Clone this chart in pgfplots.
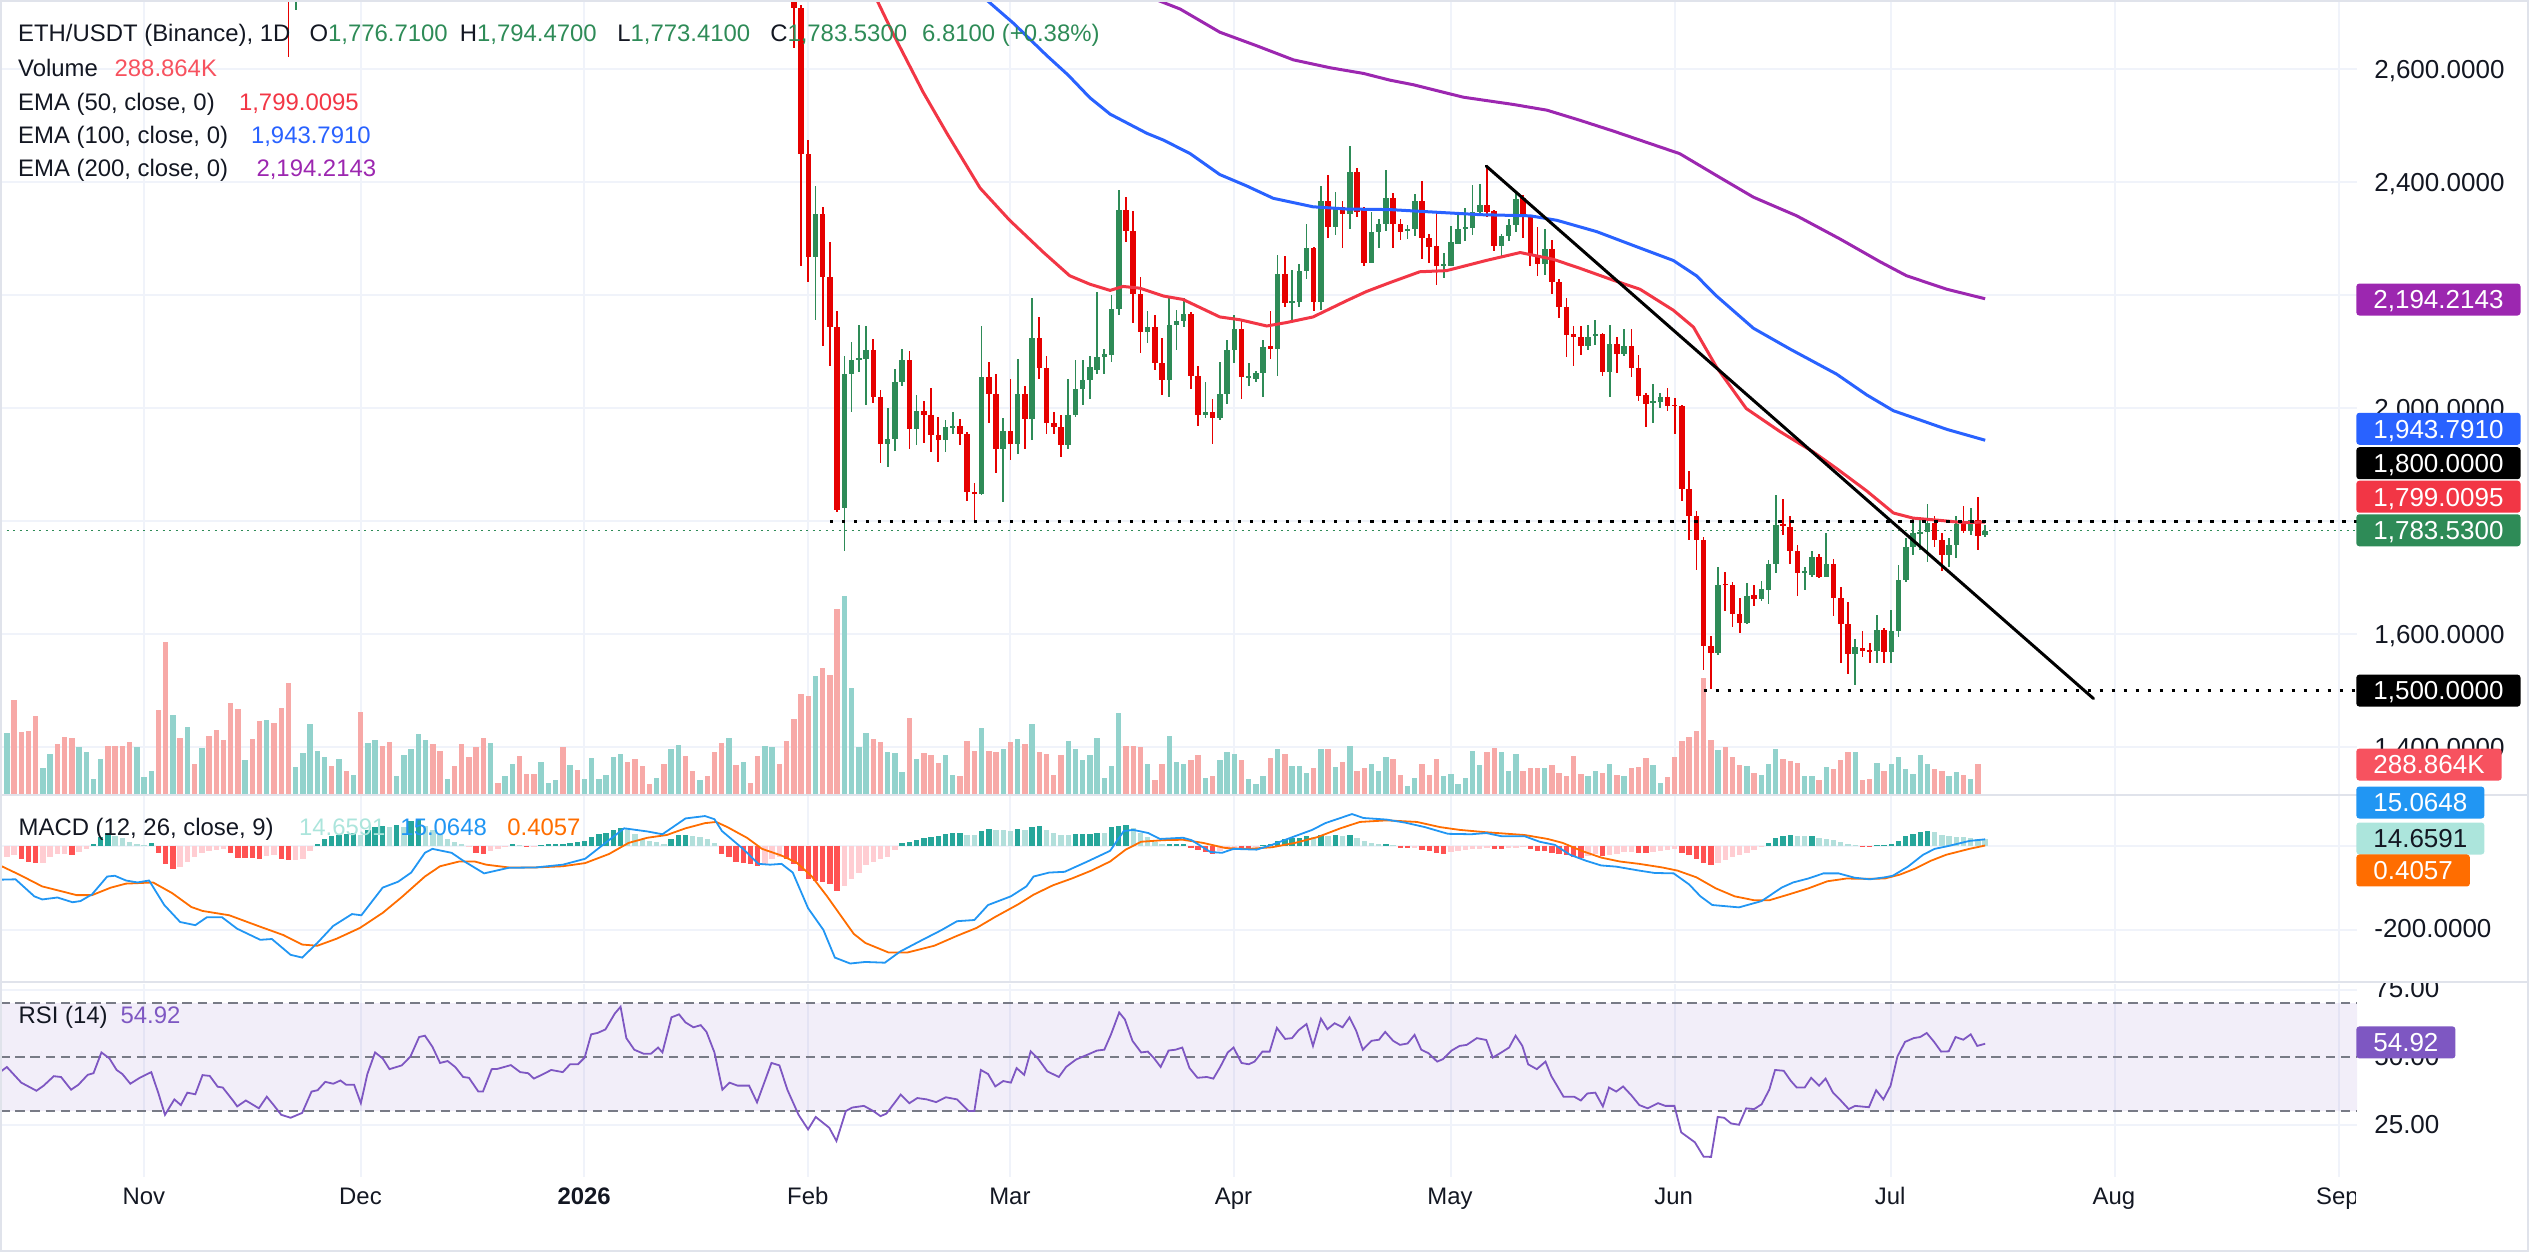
\documentclass[border=0pt]{standalone}
\usepackage{pgfplots}
\pgfplotsset{compat=1.18}
\usepackage{pgfplotstable}
\usepackage{fontspec}
\setmainfont{Liberation Sans}
\definecolor{upc}{HTML}{2E8B57}
\definecolor{dnc}{HTML}{E60000}
\definecolor{volup}{HTML}{92D2CC}
\definecolor{voldn}{HTML}{F7A9A7}
\definecolor{emaA}{HTML}{F23645}
\definecolor{emaB}{HTML}{2962FF}
\definecolor{emaC}{HTML}{9C27B0}
\definecolor{gridc}{HTML}{F0F3FA}
\definecolor{sepc}{HTML}{E0E3EB}
\definecolor{txt}{HTML}{131722}
\definecolor{macdc}{HTML}{2196F3}
\definecolor{sigc}{HTML}{FF6D00}
\definecolor{hup}{HTML}{26A69A}
\definecolor{hupl}{HTML}{B2DFDB}
\definecolor{hdn}{HTML}{FF5252}
\definecolor{hdnl}{HTML}{FFCDD2}
\definecolor{rsic}{HTML}{7E57C2}
\definecolor{bandc}{HTML}{787B86}
\definecolor{volbox}{HTML}{F7525F}
\definecolor{histbox}{HTML}{ACE5DC}
\newcommand{\legfont}{\fontsize{6.8pt}{8pt}\selectfont}
\newcommand{\sclfont}{\fontsize{7.4pt}{9pt}\selectfont}
\newcommand{\timefont}{\fontsize{6.8pt}{8pt}\selectfont}

\pgfplotstableread{
d o h l c
-71 2790 2900 2705 2880
1 2268 2394 2157 2345
5 1823 2093 1748 2061
6 2061 2118 1994 2085
7 2085 2148 2065 2089
8 2087 2146 2006 2104
11 1938 2000 1896 1946
12 1946 2070 1924 2047
13 2047 2105 2040 2085
15 1963 2024 1936 1995
19 1945 1979 1923 1967
20 1966 1993 1955 1969
24 1849 2146 1847 2055
27 1928 1984 1835 1961
29 1937 2088 1919 2026
31 1981 2196 1945 2124
36 1936 2053 1928 1989
37 1989 2085 1985 2034
38 2034 2085 2006 2050
39 2050 2093 2016 2073
40 2069 2207 2061 2092
41 2092 2105 2061 2097
42 2095 2201 2083 2176
43 2176 2386 2165 2352
47 2135 2173 2116 2144
50 2051 2196 2020 2148
51 2148 2174 2103 2154
52 2154 2196 2144 2168
55 1989 2046 1984 1993
57 1984 2083 1979 2026
58 2026 2122 2008 2104
59 2104 2165 2081 2140
61 2055 2081 2039 2058
62 2052 2066 2046 2063
63 2063 2122 2020 2108
65 2106 2272 2058 2238
67 2187 2245 2156 2190
68 2188 2256 2180 2244
69 2244 2327 2229 2284
71 2188 2394 2174 2368
73 2321 2384 2307 2357
75 2345 2465 2317 2418
78 2258 2347 2257 2313
79 2313 2335 2284 2326
80 2326 2422 2314 2372
83 2315 2325 2300 2318
84 2317 2380 2306 2368
88 2253 2276 2231 2256
89 2253 2323 2253 2295
90 2292 2344 2291 2317
91 2317 2355 2296 2321
92 2319 2396 2307 2347
93 2347 2398 2345 2360
96 2288 2309 2266 2305
97 2305 2335 2296 2325
98 2325 2383 2313 2370
102 2256 2317 2237 2283
108 2110 2148 2104 2126
109 2128 2157 2112 2131
111 2065 2148 2020 2115
113 2097 2140 2093 2110
117 2010 2044 1975 2013
118 2012 2028 2000 2020
126 1567 1719 1563 1687
130 1620 1691 1618 1669
132 1663 1695 1659 1680
133 1679 1732 1654 1724
134 1724 1847 1709 1794
138 1709 1719 1679 1712
139 1705 1748 1701 1738
141 1702 1779 1701 1724
145 1565 1592 1511 1577
148 1571 1634 1549 1608
150 1569 1644 1549 1606
151 1606 1723 1595 1697
152 1697 1771 1693 1754
153 1754 1805 1741 1779
154 1779 1806 1749 1782
155 1782 1831 1728 1798
158 1741 1771 1719 1758
159 1758 1809 1736 1795
161 1784 1823 1776 1803
163 1776.71 1794.47 1773.41 1783.53
}\upC

\pgfplotstableread{
d o h l c
-72 2900 2950 2622 2790
-2 2800 2850 2638 2709
-1 2709 2715 2252 2451
0 2451 2475 2223 2268
2 2345 2357 2110 2233
3 2233 2295 2075 2144
4 2144 2172 1817 1821
9 2104 2123 2010 2020
10 2020 2032 1904 1938
14 2085 2101 1928 1963
16 1995 2014 1939 1989
17 1989 2036 1923 1953
18 1953 1985 1906 1945
21 1969 1982 1935 1954
22 1954 1958 1836 1853
23 1853 1868 1798 1849
25 2055 2083 1975 2026
26 2026 2061 1886 1928
28 1961 2053 1908 1937
30 2026 2039 1928 1981
32 2124 2162 2053 2071
33 2071 2093 1955 1975
34 1975 1994 1954 1967
35 1967 1988 1915 1936
44 2352 2375 2294 2315
45 2315 2349 2152 2203
46 2203 2233 2099 2135
48 2144 2166 2069 2081
49 2081 2124 2024 2051
53 2168 2170 2034 2058
54 2058 2075 1969 1989
56 1993 2016 1937 1984
60 2140 2158 2016 2055
64 2110 2172 2087 2106
66 2238 2270 2179 2187
70 2284 2286 2173 2188
72 2368 2414 2302 2321
74 2357 2368 2284 2345
76 2418 2425 2339 2348
77 2353 2356 2252 2258
81 2372 2382 2284 2327
82 2327 2335 2299 2313
85 2368 2402 2265 2302
86 2302 2309 2258 2286
87 2287 2347 2219 2252
94 2360 2429 2339 2348
95 2349 2352 2279 2288
99 2372 2378 2302 2339
100 2339 2343 2253 2272
101 2272 2322 2234 2256
103 2283 2298 2203 2223
104 2223 2229 2161 2179
105 2179 2196 2091 2130
106 2131 2146 2075 2127
107 2127 2146 2095 2110
110 2131 2134 2057 2065
112 2115 2127 2063 2097
114 2110 2140 2055 2071
115 2071 2095 2014 2022
116 2023 2028 1967 2008
119 2020 2036 1996 2004
120 2007 2018 1955 2004
121 2004 2006 1837 1858
122 1858 1890 1768 1809
123 1809 1819 1715 1768
124 1768 1772 1538 1579
125 1579 1598 1504 1567
127 1690 1711 1642 1687
128 1687 1693 1614 1636
129 1636 1665 1603 1620
131 1669 1687 1650 1663
135 1795 1839 1776 1792
136 1790 1809 1725 1748
137 1748 1758 1669 1709
140 1738 1742 1700 1702
142 1724 1733 1633 1664
143 1664 1684 1549 1618
144 1618 1657 1530 1565
146 1576 1606 1561 1571
147 1573 1585 1549 1570
149 1608 1611 1550 1569
156 1798 1809 1754 1768
157 1768 1780 1713 1740
160 1797 1827 1780 1784
162 1803 1844 1750 1774
}\dnC

\pgfplotsset{
  gridpanel/.style={scale only axis, width=23.57cm, xmin=-111.95, xmax=214.5,
    axis line style={draw=none}, major tick length=0pt,
    xticklabels={}, yticklabels={}, tick label style={opacity=0},
    xtick={-92,-62,-31,0,28,59,89,120,150,181,212},
    grid=major, major grid style={draw=gridc, line width=0.02cm}, clip=true},
  overlay/.style={scale only axis, width=23.57cm, xmin=-111.95, xmax=214.5, hide axis, clip=true},
}
\tikzset{
  lbl/.style={anchor=west, inner xsep=0.17cm, inner ysep=0cm, minimum height=0.32cm, text height=0.187cm, text depth=0cm, font=\sclfont, rounded corners=0.03cm, text=white},
  tk/.style={anchor=west, inner sep=0pt, text height=0.187cm, text depth=0cm, font=\sclfont, text=txt},
  lg/.style={anchor=west, inner sep=0pt, text height=0.172cm, text depth=0cm, font=\legfont, text=txt},
  tm/.style={anchor=center, inner sep=0pt, text height=0.172cm, text depth=0cm, font=\timefont, text=txt},
}

\begin{document}
\begin{tikzpicture}
\path[use as bounding box] (0,0) rectangle (25.30cm,-12.53cm);

% ---------- main pane grid ----------
\begin{axis}[gridpanel, at={(0cm,-7.95cm)}, anchor=south west, height=7.95cm,
  ymin=1315.9, ymax=2723, ytick={1400,1600,1800,2000,2200,2400,2600}]
\addplot[draw=none] coordinates {(0,2000)};
\end{axis}

% ---------- volume overlay ----------
\begin{axis}[overlay, at={(0cm,-7.95cm)}, anchor=south west, height=7.95cm,
  ymin=-14.6, ymax=7728]
\addplot[ycomb, draw=volup, line width=0.054cm] coordinates {
(-112,770) (-111,589) (-106,250) (-105,385) (-101,454) (-100,404) (-99,142) (-98,335) (-93,454) (-92,162) (-91,220) (-88,766) (-86,647) (-84,443) (-78,327) (-75,716) (-71,262) (-70,397) (-69,678) (-68,416) (-67,354) (-65,335) (-63,181) (-61,493) (-60,520) (-57,166) (-56,377) (-55,435) (-54,578) (-53,520) (-50,142) (-44,493) (-42,166) (-41,289) (-37,308) (-36,104) (-35,127) (-33,281) (-31,142) (-30,347) (-29,142) (-28,181) (-27,354) (-26,385) (-21,154) (-19,435) (-18,474) (-15,131) (-11,539) (-9,308) (-6,462) (-5,454) (1,1144) (5,1926) (6,1028) (7,454) (8,589) (11,404) (12,393) (13,212) (15,335) (19,374) (20,181) (24,639) (27,435) (29,531) (31,678) (36,512) (37,435) (38,327) (39,374) (40,539) (41,154) (42,270) (43,782) (47,289) (50,558) (51,308) (52,289) (55,154) (57,327) (58,404) (59,385) (61,142) (62,96) (63,166) (65,435) (67,270) (68,270) (69,204) (71,435) (73,258) (75,462) (78,289) (79,220) (80,354) (83,77) (84,154) (88,166) (89,189) (90,92) (91,150) (92,416) (93,281) (96,404) (97,223) (98,385) (102,250) (108,166) (109,220) (111,289) (113,169) (117,277) (118,104) (126,424) (130,270) (132,181) (133,289) (134,435) (138,166) (139,166) (141,258) (145,404) (148,295) (150,286) (151,354) (152,237) (153,188) (154,373) (155,286) (158,169) (159,208) (161,140)
};
\addplot[ycomb, draw=voldn, line width=0.054cm] coordinates {
(-110,913) (-109,601) (-108,608) (-107,755) (-104,481) (-103,547) (-102,539) (-97,462) (-96,462) (-95,462) (-94,501) (-90,816) (-89,1471) (-87,539) (-85,289) (-83,558) (-82,620) (-81,520) (-80,882) (-79,824) (-77,531) (-76,705) (-74,685) (-73,836) (-72,1078) (-66,270) (-64,220) (-62,797) (-59,462) (-58,501) (-52,481) (-51,412) (-49,270) (-48,481) (-47,354) (-46,454) (-45,539) (-43,104) (-40,366) (-39,189) (-38,189) (-34,454) (-32,231) (-25,308) (-24,335) (-23,270) (-22,92) (-20,289) (-17,366) (-16,220) (-14,169) (-13,404) (-12,493) (-10,277) (-8,104) (-7,366) (-4,289) (-3,512) (-2,724) (-1,970) (0,951) (2,1221) (3,1155) (4,1798) (9,531) (10,501) (14,739) (16,393) (17,374) (18,297) (21,166) (22,512) (23,416) (25,416) (26,404) (28,501) (30,481) (32,404) (33,385) (34,181) (35,374) (44,462) (45,462) (46,454) (48,131) (49,289) (53,327) (54,374) (56,166) (60,327) (64,347) (66,385) (70,250) (72,435) (74,308) (76,220) (77,250) (81,335) (82,181) (85,289) (86,181) (87,335) (94,404) (95,443) (99,223) (100,250) (101,250) (103,277) (104,200) (105,166) (106,366) (107,189) (110,204) (112,181) (114,250) (115,258) (116,347) (119,162) (120,354) (121,512) (122,551) (123,605) (124,1125) (125,520) (127,451) (128,354) (129,281) (131,200) (135,335) (136,316) (137,297) (140,135) (142,243) (143,327) (144,404) (146,130) (147,140) (149,217) (156,237) (157,217) (160,179) (162,288.864)
};
\end{axis}

% ---------- main price pane ----------
\begin{axis}[overlay, at={(0cm,-7.95cm)}, anchor=south west, height=7.95cm,
  ymin=1315.9, ymax=2723]
% last price line
\addplot[upc, line width=0.014cm, dash pattern=on 0.02cm off 0.045cm] coordinates {(-111.95,1783.53) (214.5,1783.53)};
% candles
\addplot[draw=none, mark=none, error bars/.cd, y dir=both, y explicit, error mark=none,
  error bar style={draw=upc, line width=0.017cm}]
  table[x=d, y expr={(\thisrow{h}+\thisrow{l})/2}, y error expr={(\thisrow{h}-\thisrow{l})/2}] {\upC};
\addplot[draw=none, mark=none, error bars/.cd, y dir=both, y explicit, error mark=none,
  error bar style={draw=upc, line width=0.055cm}]
  table[x=d, y expr={(\thisrow{o}+\thisrow{c})/2}, y error expr={abs(\thisrow{c}-\thisrow{o})/2}] {\upC};
\addplot[draw=none, mark=none, error bars/.cd, y dir=both, y explicit, error mark=none,
  error bar style={draw=dnc, line width=0.017cm}]
  table[x=d, y expr={(\thisrow{h}+\thisrow{l})/2}, y error expr={(\thisrow{h}-\thisrow{l})/2}] {\dnC};
\addplot[draw=none, mark=none, error bars/.cd, y dir=both, y explicit, error mark=none,
  error bar style={draw=dnc, line width=0.055cm}]
  table[x=d, y expr={(\thisrow{o}+\thisrow{c})/2}, y error expr={abs(\thisrow{c}-\thisrow{o})/2}] {\dnC};
% EMAs
\addplot[emaC, line width=0.03cm] coordinates {(45,2740) (48.3,2723) (51.5,2707) (57.0,2666) (62.1,2642) (67.2,2617) (72.3,2603) (76.9,2593) (80.6,2581) (83.8,2573) (90.7,2551) (97.7,2538) (102.3,2528) (106.9,2510) (111.5,2491) (116.1,2471) (120.7,2451) (126.1,2410) (130.9,2374) (136.9,2341) (142.9,2300) (148.4,2260) (152.1,2235) (157.7,2211) (163,2194.21)};
\addplot[emaB, line width=0.03cm] coordinates {(22,2752) (24.7,2723) (28.4,2682) (33.0,2625) (36.0,2590) (39.0,2550) (41.8,2521) (46.9,2487) (49.2,2475) (52.9,2451) (57.0,2414) (60.7,2394) (64.4,2372) (69.9,2357) (74.6,2353) (80.6,2352) (86.1,2348) (93.1,2343) (100,2341) (103.7,2333) (109.2,2313) (115.2,2284) (119.8,2262) (123.0,2235) (125.8,2199) (130.9,2142) (136.0,2105) (142.4,2061) (146.6,2024) (150.3,1996) (153.0,1984) (157.7,1963) (163,1943.79)};
\addplot[emaA, line width=0.03cm] coordinates {(8,2761) (9.5,2723) (11.8,2662) (15.9,2560) (19.2,2487) (23.8,2390) (27.9,2333) (32.6,2276) (36.2,2235) (39.0,2220) (41.8,2209) (43.6,2216) (45.9,2213) (49.2,2199) (51.9,2193) (57.0,2162) (59.8,2157) (63.5,2146) (66.2,2152) (69.9,2162) (74.6,2191) (77.3,2207) (80.6,2223) (84.7,2242) (88.4,2244) (93.9,2262) (98.6,2276) (103.2,2264) (106.9,2248) (111.5,2227) (115.2,2211) (119.8,2174) (122.6,2144) (125.8,2073) (129.9,2000) (134.6,1959) (139.2,1923) (142.4,1894) (146.6,1854) (150.3,1815) (153.0,1806) (156.7,1802) (160.0,1798) (163,1799.01)};
% horizontal levels
\addplot[black, line width=0.03cm, dash pattern=on 0.035cm off 0.085cm] coordinates {(3,1800) (214.5,1800)};
\addplot[black, line width=0.03cm, dash pattern=on 0.035cm off 0.085cm] coordinates {(124,1500) (214.5,1500)};
% trend line
\addplot[black, line width=0.03cm, line cap=round] coordinates {(93.9,2429) (178,1486.6)};
\end{axis}

% ---------- MACD pane ----------
\begin{axis}[gridpanel, at={(0cm,-9.82cm)}, anchor=south west, height=1.86cm,
  ymin=-321.5, ymax=117.2, ytick={-200,0}]
\addplot[ycomb, draw=hup, line width=0.054cm] coordinates {(-99,3.7) (-98,20.5) (-97,29.8) (-91,5.6) (-68,3.7) (-67,15.9) (-66,22.4) (-65,25.2) (-64,28.0) (-63,29.8) (-61,37.3) (-60,43.8) (-59,46.6) (-57,48.5) (-55,57.8) (-54,62.5) (-41,3.7) (-37,1.9) (-36,3.7) (-35,3.7) (-34,3.7) (-33,6.5) (-32,9.3) (-31,11.2) (-30,20.5) (-29,27.0) (-28,29.8) (-27,36.4) (-26,41.0) (-19,15.9) (-18,25.2) (-17,25.2) (13,6.5) (14,9.3) (15,14.0) (16,18.7) (17,20.5) (18,22.4) (19,28.0) (20,29.8) (21,29.8) (24,34.5) (25,39.2) (29,39.2) (31,43.8) (32,46.6) (37,28.0) (38,28.0) (39,28.0) (40,29.8) (42,43.8) (43,46.6) (44,48.5) (50,3.7) (51,3.7) (52,3.7) (63,1.9) (64,3.7) (65,11.2) (66,15.9) (67,18.7) (68,18.7) (69,22.4) (71,25.2) (73,25.2) (75,25.2) (80,3.7) (133,6.5) (134,18.7) (135,22.4) (136,25.2) (139,22.4) (148,0.9) (149,0.9) (150,4.7) (151,11.2) (152,22.4) (153,28.0) (154,32.6) (155,33.6)};
\addplot[ycomb, draw=hupl, line width=0.054cm] coordinates {(-96,22.4) (-95,18.7) (-94,9.3) (-93,3.7) (-92,1.9) (-62,25.2) (-58,43.8) (-56,43.8) (-53,46.6) (-52,37.3) (-51,25.2) (-50,15.9) (-49,9.3) (-48,3.7) (-40,1.9) (-25,39.2) (-24,28.0) (-23,15.9) (-22,11.2) (-21,9.3) (-20,3.7) (-16,22.4) (-15,20.5) (-14,14.9) (-13,6.5) (22,25.2) (23,25.2) (26,37.3) (27,37.3) (28,34.5) (30,37.3) (33,37.3) (34,29.8) (35,25.2) (36,25.2) (41,29.8) (45,41.0) (46,29.8) (47,20.5) (48,9.3) (49,3.7) (70,20.5) (72,23.3) (74,22.4) (76,18.7) (77,11.2) (78,5.6) (79,3.7) (81,1.9) (137,22.4) (138,22.4) (140,18.7) (141,15.9) (142,14.0) (143,9.3) (144,3.7) (145,1.9) (156,31.7) (157,25.2) (158,22.4) (159,20.5) (160,20.5) (161,18.7) (162,15.9) (163,14.66)};
\addplot[ycomb, draw=hdn, line width=0.054cm] coordinates {(-109,-30.8) (-108,-37.3) (-107,-42.0) (-102,-21.5) (-90,-16.8) (-89,-42.9) (-88,-54.1) (-80,-16.8) (-79,-28.0) (-78,-28.0) (-77,-28.0) (-76,-30.8) (-73,-30.8) (-72,-33.6) (-46,-16.8) (-45,-19.6) (-39,-2.8) (-12,-18.7) (-11,-26.1) (-10,-37.3) (-9,-41.0) (-8,-42.9) (-7,-48.5) (-3,-30.8) (-2,-42.9) (-1,-58.8) (0,-77.4) (1,-83.9) (2,-86.7) (3,-89.5) (4,-107.2) (53,-5.6) (54,-10.3) (55,-14.9) (56,-18.7) (60,-7.5) (61,-7.5) (82,-5.6) (83,-5.6) (85,-10.3) (86,-13.1) (87,-16.8) (88,-18.7) (95,-7.5) (96,-7.5) (100,-7.5) (101,-12.1) (102,-12.1) (103,-16.8) (104,-18.7) (105,-21.5) (106,-26.1) (107,-28.9) (110,-24.2) (115,-16.8) (116,-16.8) (121,-16.8) (122,-21.5) (123,-30.8) (124,-40.1) (125,-46.6) (146,-1.9) (147,-1.9)};
\addplot[ycomb, draw=hdnl, line width=0.054cm] coordinates {(-112,-26.1) (-111,-26.1) (-110,-21.5) (-106,-40.1) (-105,-26.1) (-104,-18.7) (-103,-18.7) (-101,-14.9) (-100,-7.5) (-87,-49.4) (-86,-37.3) (-85,-26.1) (-84,-16.8) (-83,-12.1) (-82,-9.3) (-81,-7.5) (-75,-24.2) (-74,-21.5) (-71,-33.6) (-70,-30.8) (-69,-12.1) (-47,-3.7) (-44,-13.1) (-43,-7.5) (-42,-3.7) (-38,-2.8) (-6,-42.9) (-5,-30.8) (-4,-26.1) (5,-94.2) (6,-77.4) (7,-63.4) (8,-46.6) (9,-37.3) (10,-30.8) (11,-26.1) (12,-11.2) (57,-12.1) (58,-5.6) (59,-5.6) (62,-3.7) (84,-4.7) (89,-14.9) (90,-13.1) (91,-11.2) (92,-7.5) (93,-7.5) (94,-5.6) (97,-5.6) (98,-5.6) (99,-3.7) (108,-24.2) (109,-19.6) (111,-21.5) (112,-18.7) (113,-14.9) (114,-14.9) (117,-14.9) (118,-12.1) (119,-10.3) (120,-7.5) (126,-40.1) (127,-33.6) (128,-26.1) (129,-21.5) (130,-16.8) (131,-11.2) (132,-3.7)};
\addplot[sigc, line width=0.018cm] coordinates {(-111.95,-46.6) (-109.3,-68.1) (-106.1,-96.1) (-103.5,-107.2) (-101.35,-116.6) (-99.2,-116.6) (-96.6,-98.9) (-94.5,-89.5) (-90.75,-86.7) (-88.1,-111.9) (-85.45,-144.6) (-83.9,-153.9) (-80.2,-164.1) (-75.9,-191.2) (-72.7,-210.8) (-70.1,-233.2) (-68.0,-236.0) (-65.3,-219.2) (-62.1,-194.0) (-58.95,-158.5) (-56.3,-121.2) (-53.1,-72.7) (-51.0,-48.5) (-48.35,-37.3) (-46.2,-37.3) (-44.6,-44.8) (-41.5,-51.3) (-37.75,-51.3) (-34.0,-48.5) (-30.9,-41.0) (-27.6,-19.6) (-24.9,6.5) (-22.3,18.7) (-19.6,25.2) (-17.0,41.0) (-14.3,53.2) (-12.75,56.0) (-11.2,43.8) (-8.5,18.7) (-6.4,-7.5) (-3.7,-23.3) (-1.6,-40.1) (0.5,-72.7) (2.6,-119.4) (4.74,-170.7) (6.3,-208.0) (7.9,-229.4) (11.1,-251.8) (13.75,-251.8) (17.46,-235.9) (20.6,-212.6) (23.3,-194.0) (25.9,-167.9) (29.1,-138.0) (31.2,-115.6) (33.9,-93.3) (36.5,-77.4) (39.2,-58.8) (41.8,-37.3) (43.96,-9.3) (46.1,9.3) (49.26,13.1) (51.9,14.0) (54.7,6.5) (57.8,-5.6) (61.0,-7.5) (64.2,-3.7) (67.4,6.5) (70.56,20.5) (73.7,41.0) (76.4,56.0) (80.1,59.7) (84.3,56.0) (87.5,43.8) (90.2,37.3) (93.9,31.7) (99.2,25.2) (102.4,15.9) (104.5,6.5) (107.1,-12.1) (109.8,-28.0) (112.4,-37.3) (115.1,-42.9) (118.26,-51.3) (120.4,-58.8) (123.0,-74.6) (125.7,-100.7) (128.3,-119.4) (131.0,-128.7) (133.1,-128.7) (135.85,-114.7) (138.5,-100.7) (141.15,-83.9) (143.8,-77.4) (146.45,-78.3) (149.1,-77.4) (151.2,-68.1) (153.3,-54.1) (155.5,-35.4) (157.6,-21.4) (160.8,-7.5) (163,0.41)};
\addplot[macdc, line width=0.018cm] coordinates {(-111.95,-80.2) (-109.8,-79.3) (-107.2,-119.4) (-106.1,-126.8) (-104.0,-122.2) (-101.9,-133.4) (-100.8,-130.6) (-99.2,-114.7) (-97.1,-72.7) (-96.05,-70.9) (-94.5,-82.1) (-92.9,-86.7) (-91.3,-82.1) (-89.2,-139.9) (-87.0,-180.0) (-84.9,-187.5) (-83.3,-168.8) (-81.2,-168.8) (-79.1,-195.9) (-75.9,-222.0) (-74.3,-220.1) (-71.7,-257.4) (-70.1,-263.9) (-68.0,-229.4) (-65.8,-189.3) (-63.2,-161.3) (-61.9,-164.1) (-58.95,-98.9) (-56.8,-84.9) (-55.0,-63.4) (-53.1,-16.8) (-52.06,-7.5) (-49.4,-16.8) (-47.8,-35.4) (-44.9,-65.3) (-41.5,-52.2) (-37.75,-51.3) (-34.0,-44.8) (-30.9,-30.8) (-28.1,6.5) (-25.5,41.0) (-22.3,33.6) (-20.2,27.0) (-17.0,64.3) (-14.3,69.9) (-13.0,62.5) (-11.95,34.5) (-9.04,-7.5) (-6.9,-42.9) (-5.3,-44.8) (-3.7,-42.9) (-2.15,-63.4) (-0.03,-147.4) (2.09,-198.6) (3.68,-263.9) (5.8,-277.9) (7.9,-274.2) (10.6,-276.0) (12.7,-249.9) (15.3,-226.6) (18.5,-198.6) (20.6,-178.1) (23.0,-175.3) (24.9,-139.9) (28.06,-119.4) (30.2,-96.1) (31.2,-72.7) (33.36,-63.4) (35.5,-61.6) (38.66,-37.3) (41.8,-12.1) (43.7,34.5) (45.0,37.3) (47.1,29.8) (48.7,15.9) (51.9,18.7) (53.07,13.1) (55.7,-14.9) (57.3,-16.8) (58.9,-7.5) (62.1,-9.3) (64.2,1.9) (67.4,22.4) (69.8,37.3) (71.6,53.2) (73.7,65.3) (75.3,74.6) (76.9,65.3) (80.1,61.6) (82.75,54.1) (85.4,43.8) (88.6,28.0) (91.8,27.0) (93.9,29.8) (96.0,22.4) (99.2,22.4) (101.3,9.3) (103.4,1.9) (105.5,-21.4) (107.7,-35.4) (109.8,-46.6) (111.9,-49.4) (115.1,-58.8) (117.2,-64.3) (119.85,-65.3) (122.0,-91.4) (123.56,-119.4) (125.2,-139.9) (128.9,-145.5) (132.04,-130.6) (134.8,-98.9) (136.4,-86.7) (138.5,-77.4) (140.6,-65.3) (142.7,-65.3) (144.9,-75.5) (147.0,-79.3) (149.1,-74.6) (150.2,-70.9) (152.3,-49.4) (154.4,-21.4) (156.0,-7.5) (158.1,0) (160.8,11.2) (163,15.06)};
\end{axis}

% ---------- RSI pane ----------
\begin{axis}[gridpanel, at={(0cm,-11.77cm)}, anchor=south west, height=1.93cm,
  ymin=5.56, ymax=77.04, ytick={25,75}]
\addplot[fill=rsic, fill opacity=0.1, draw=none] coordinates {(-111.95,30) (214.5,30) (214.5,70) (-111.95,70) (-111.95,30)};
\addplot[bandc, line width=0.014cm, dash pattern=on 0.095cm off 0.057cm] coordinates {(-111.95,70) (214.5,70)};
\addplot[bandc, line width=0.014cm, dash pattern=on 0.095cm off 0.057cm] coordinates {(-111.95,50) (214.5,50)};
\addplot[bandc, line width=0.014cm, dash pattern=on 0.095cm off 0.057cm] coordinates {(-111.95,30) (214.5,30)};
\addplot[rsic, line width=0.018cm] coordinates {(-111.95,44.4) (-111.0,46.3) (-109.0,40.5) (-106.9,37.5) (-105.9,39.4) (-104.5,42.9) (-103.5,42.6) (-102.1,37.9) (-101.1,39.7) (-99.8,43.4) (-99.0,44.0) (-97.9,51.7) (-96.8,49.5) (-95.8,45.2) (-95.0,43.7) (-93.9,40.1) (-92.6,42.3) (-91.0,44.4) (-90.0,36.5) (-89.1,28.6) (-87.8,34.3) (-86.9,32.2) (-86.0,36.8) (-84.9,36.2) (-83.9,43.3) (-82.9,43.0) (-81.8,39.0) (-81.1,38.7) (-79.6,33.6) (-79.1,31.7) (-77.9,33.9) (-76.1,31.0) (-75.0,35.3) (-74.05,32.2) (-73.0,28.6) (-71.7,27.5) (-70.1,29.3) (-68.8,37.2) (-67.96,37.7) (-66.9,40.8) (-65.8,40.1) (-64.8,41.3) (-64.0,39.7) (-62.9,39.7) (-61.97,32.9) (-61.07,43.7) (-60.0,51.7) (-58.95,49.5) (-58.0,45.5) (-56.3,46.9) (-55.1,50.2) (-53.9,57.4) (-53.1,57.9) (-52.06,53.8) (-51.0,47.8) (-49.95,48.5) (-48.9,46.3) (-47.8,42.6) (-47.0,42.3) (-45.7,37.2) (-45.06,37.2) (-43.85,45.5) (-43.05,45.6) (-41.2,47.0) (-39.9,44.4) (-38.8,44.0) (-38.0,42.0) (-36.7,43.7) (-35.6,45.2) (-34.0,44.4) (-33.0,47.3) (-31.9,47.3) (-30.97,49.8) (-30.07,58.4) (-29.2,58.9) (-28.1,60.2) (-26.8,66.1) (-26.0,68.6) (-25.2,57.0) (-24.1,52.7) (-22.8,51.2) (-21.8,51.2) (-20.8,53.5) (-20.2,51.7) (-18.95,64.7) (-17.9,65.8) (-17.0,62.8) (-15.9,61.0) (-14.9,61.8) (-14.1,59.3) (-13.0,51.7) (-11.9,37.9) (-10.9,40.5) (-9.8,39.4) (-8.2,39.4) (-7.1,33.2) (-5.1,47.8) (-4.0,46.9) (-2.9,37.9) (-1.35,28.6) (-0.03,23.2) (1.03,27.8) (2.9,23.8) (3.9,18.9) (5.2,30.0) (6.1,31.3) (7.7,31.9) (9.0,30.0) (10.0,28.1) (10.8,29.0) (12.2,33.9) (12.8,36.1) (14.0,32.9) (15.1,34.8) (16.4,34.3) (17.7,33.3) (19.05,35.1) (20.6,34.3) (22.2,30.0) (23.0,30.0) (23.9,45.2) (24.9,43.7) (25.9,39.1) (27.0,41.1) (28.06,40.5) (28.85,45.9) (29.9,43.4) (30.8,52.1) (31.8,49.5) (33.1,44.7) (34.7,42.6) (35.7,46.3) (37.1,49.1) (38.7,50.9) (40.0,52.4) (41.0,52.7) (41.9,58.2) (43.06,66.5) (43.85,63.9) (44.9,56.0) (46.1,51.7) (47.03,52.0) (47.9,49.5) (48.8,46.3) (49.9,52.4) (50.85,52.7) (51.8,53.5) (52.8,45.9) (53.9,42.3) (55.2,42.6) (56.1,42.0) (57.05,46.3) (58.1,51.7) (58.9,53.5) (60.0,47.8) (61.0,47.3) (61.8,48.3) (62.9,52.0) (63.9,52.0) (64.9,60.8) (66.05,56.7) (67.0,57.0) (67.9,59.9) (69.0,62.2) (69.9,54.1) (71.0,64.2) (71.9,60.3) (72.9,62.5) (74.0,61.0) (74.96,64.7) (75.9,59.6) (76.8,52.7) (78.0,56.0) (79.04,56.4) (79.9,59.3) (81.0,56.0) (81.95,54.5) (83.0,55.0) (83.97,58.2) (84.9,52.7) (85.9,51.4) (87.1,48.3) (87.9,49.2) (89.1,52.4) (90.2,54.1) (91.2,54.5) (92.6,57.0) (93.9,56.3) (94.8,49.8) (96.0,51.7) (97.06,53.5) (97.96,57.9) (98.9,54.1) (99.7,47.3) (100.9,45.5) (102.1,48.3) (102.9,43.0) (104.6,35.3) (106.07,35.3) (107.0,33.9) (107.9,36.5) (109.0,36.8) (110.05,31.7) (110.9,38.7) (111.9,37.2) (112.85,39.1) (114.0,35.8) (115.1,32.2) (116.25,31.0) (117.7,32.9) (118.7,31.9) (119.96,31.9) (120.9,22.1) (122.8,18.4) (124.0,13.1) (125.04,13.0) (125.95,27.8) (126.85,27.5) (127.8,25.4) (128.9,24.9) (129.9,31.0) (131.0,30.7) (132.04,32.5) (133.1,37.9) (133.9,45.2) (135.1,44.9) (136.1,41.1) (136.9,38.7) (138.0,38.7) (138.9,42.3) (140.0,39.4) (140.9,42.0) (141.9,36.9) (143.0,33.9) (144.1,30.7) (145.0,31.9) (146.9,31.4) (147.9,37.7) (148.9,34.3) (149.9,39.4) (150.85,50.2) (151.9,55.6) (153.1,57.0) (154.0,57.4) (154.9,58.9) (155.9,55.7) (156.9,52.0) (157.95,52.1) (158.9,57.4) (159.97,56.4) (161.0,58.4) (161.9,54.1) (163.0,54.92)};
\end{axis}

% ---------- annotations (pixel units) ----------
\begin{scope}[x=0.01cm, y=-0.01cm]
\draw[sepc, line width=0.02cm] (0,795.5) -- (2530,795.5);
\draw[sepc, line width=0.02cm] (0,983) -- (2530,983);
\draw[sepc, line width=0.02cm] (1,1) rectangle (2529,1252);

% price scale ticks
\node[tk] at (2375,69.5) {2,600.0000};
\node[tk] at (2375,182.5) {2,400.0000};
\node[tk] at (2375,408.5) {2,000.0000};
\node[tk] at (2375,634.5) {1,600.0000};
\node[tk] at (2375,747.5) {1,400.0000};
\node[tk] at (2375,929) {-200.0000};
\begin{scope}
\clip (2357,984) rectangle (2530,1177);
\node[tk] at (2375,988.5) {75.00};
\node[tk] at (2375,1057) {50.00};
\node[tk] at (2375,1125) {25.00};
\end{scope}

% value labels
\node[lbl, fill=emaC] at (2357,299.7) {2,194.2143};
\node[lbl, fill=emaB] at (2357,429) {1,943.7910};
\node[lbl, fill=black] at (2357,463.5) {1,800.0000};
\node[lbl, fill=emaA] at (2357,497) {1,799.0095};
\node[lbl, fill=upc] at (2357,530.6) {1,783.5300};
\node[lbl, fill=black] at (2357,691) {1,500.0000};
\node[lbl, fill=volbox] at (2357,765) {288.864K};
\node[lbl, fill=macdc] at (2357,803) {15.0648};
\node[lbl, fill=histbox, text=txt] at (2357,839) {14.6591};
\node[lbl, fill=sigc] at (2357,871) {0.4057};
\node[lbl, fill=rsic] at (2357,1043) {54.92};

% legends
\node[lg] at (17.5,33) {ETH/USDT (Binance), 1D};
\node[lg] at (309,33) {O\textcolor{upc}{1,776.7100}};
\node[lg] at (459.5,33) {H\textcolor{upc}{1,794.4700}};
\node[lg] at (617,33) {L\textcolor{upc}{1,773.4100}};
\node[lg] at (770,33) {C\textcolor{upc}{1,783.5300}};
\node[lg, text=upc] at (922,33) {6.8100 (+0.38\%)};
\node[lg] at (17.5,68) {Volume};
\node[lg, text=volbox] at (114,68) {288.864K};
\node[lg] at (17.5,102) {EMA (50, close, 0)};
\node[lg, text=emaA] at (238.5,102) {1,799.0095};
\node[lg] at (17.5,135) {EMA (100, close, 0)};
\node[lg, text=emaB] at (250.5,135) {1,943.7910};
\node[lg] at (17.5,168) {EMA (200, close, 0)};
\node[lg, text=emaC] at (256,168) {2,194.2143};
\node[lg] at (18,827) {MACD (12, 26, close, 9)};
\node[lg, text=histbox] at (298.5,827) {14.6591};
\node[lg, text=macdc] at (400,827) {15.0648};
\node[lg, text=sigc] at (507,827) {0.4057};
\node[lg] at (18,1015) {RSI (14)};
\node[lg, text=rsic] at (120,1015) {54.92};

% time axis
\begin{scope}
\clip (0,1180) rectangle (2357,1253);
\node[tm] at (144,1197) {Nov};
\node[tm] at (360.7,1197) {Dec};
\node[tm] at (584.5,1197) {\bfseries 2026};
\node[tm] at (808.3,1197) {Feb};
\node[tm] at (1010.5,1197) {Mar};
\node[tm] at (1234.3,1197) {Apr};
\node[tm] at (1450.9,1197) {May};
\node[tm] at (1674.7,1197) {Jun};
\node[tm] at (1891.3,1197) {Jul};
\node[tm] at (2115.1,1197) {Aug};
\node[tm] at (2338.8,1197) {Sep};
\end{scope}
\end{scope}
\end{tikzpicture}
\end{document}
